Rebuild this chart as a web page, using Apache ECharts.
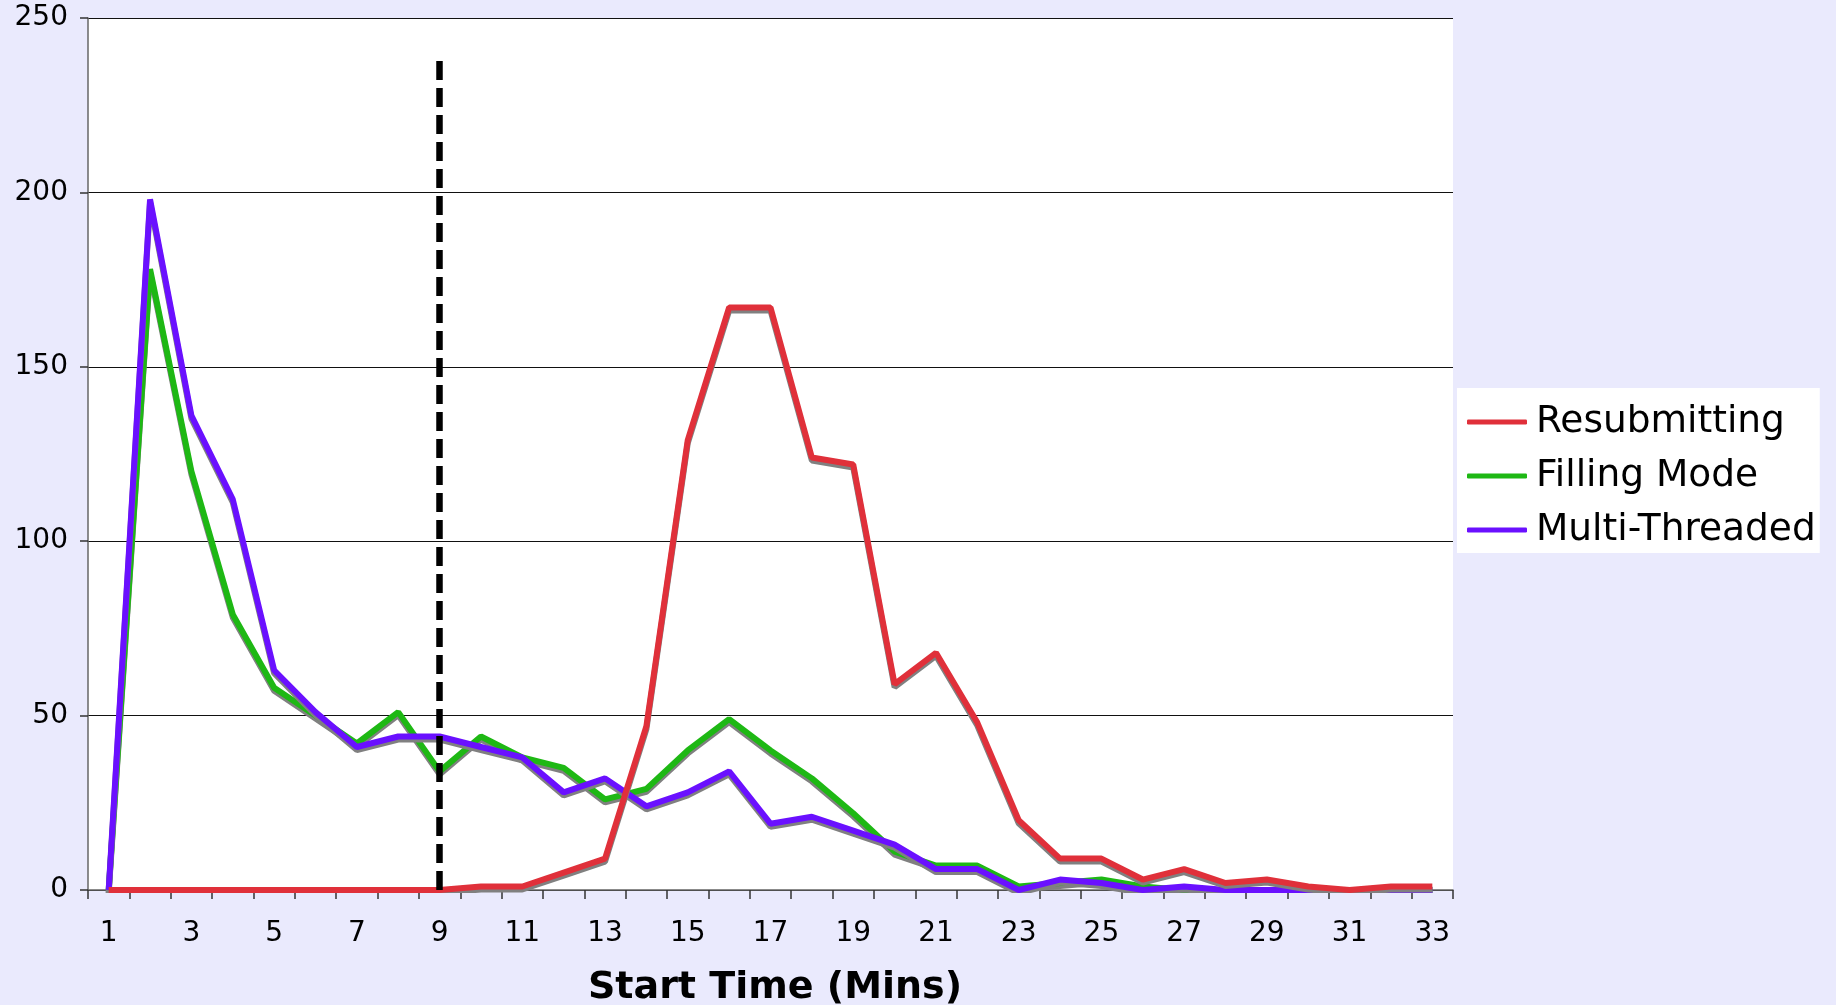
<!DOCTYPE html>
<html>
<head>
<meta charset="utf-8">
<script src="https://cdn.jsdelivr.net/npm/echarts@6/dist/echarts.min.js"></script>
<style>
html,body{margin:0;padding:0;background:#EAEAFD;}
#chart{width:1836px;height:1005px;}
</style>
</head>
<body>
<div id="chart"></div>
<script>
const categories = ['1','2','3','4','5','6','7','8','9','10','11','12','13','14','15','16','17','18','19','20','21','22','23','24','25','26','27','28','29','30','31','32','33'];
const resubmitting = [0,0,0,0,0,0,0,0,0,1,1,5,9,47,129,167,167,124,122,59,68,48,20,9,9,3,6,2,3,1,0,1,1];
const fillingMode = [0,178,120,79,58,50,42,51,34,44,38,35,26,29,40,49,40,32,22,11,7,7,1,2,3,1,0,0,0,0,0,0,0];
const multiThreaded = [0,198,136,112,63,51,41,44,44,41,38,28,32,24,28,34,19,21,17,13,6,6,0,3,2,0,1,0,0,0,0,0,0];
const seriesNames = ['Resubmitting','Filling Mode','Multi-Threaded'];
const yTicks = [0,50,100,150,200,250];
const cutoffCategory = '9';
const cutoffTop = 240;
const xTitle = 'Start Time (Mins)';

const FONT = 'DejaVu Sans';
const chart = echarts.init(document.getElementById('chart'), null, {renderer:'canvas'});
function lineSeries(name, data, color, z, extra){
  return Object.assign({
    name: name, type: 'line', data: data, symbol: 'none', smooth: false, z: z,
    lineStyle: {color: color, width: 6, shadowColor: '#808080', shadowOffsetX: 0, shadowOffsetY: 3, shadowBlur: 0},
    itemStyle: {color: color}
  }, extra || {});
}
chart.setOption({
  backgroundColor: '#EAEAFD',
  animation: false,
  textStyle: {fontFamily: FONT, color: '#000'},
  grid: {left: 88, right: 383, top: 18, bottom: 115, show: true, backgroundColor: '#fff', borderWidth: 0,
         containLabel: false, outerBoundsMode: 'none'},
  legend: {
    data: seriesNames,
    orient: 'vertical',
    left: 1457, top: 388,
    backgroundColor: '#fff',
    padding: [12, 4, 1, 10],
    itemGap: 10,
    itemWidth: 60, itemHeight: 5,
    icon: 'roundRect',
    textStyle: {fontFamily: FONT, fontSize: 37.5, color: '#000', lineHeight: 44, padding: [0,0,0,4]}
  },
  xAxis: {
    type: 'category', data: categories, boundaryGap: true,
    name: xTitle, nameLocation: 'middle', nameGap: 78,
    nameTextStyle: {fontFamily: FONT, fontSize: 38, fontWeight: 'bold', color: '#000', lineHeight: 40, padding: [0,0,0,9]},
    axisLine: {lineStyle: {color: '#666', width: 1.5}},
    axisTick: {show: true, interval: 0, length: 9, lineStyle: {color: '#333', width: 1.5}},
    axisLabel: {interval: 1, margin: 30, fontSize: 28, color: '#000', fontFamily: FONT},
    splitLine: {show: false}
  },
  yAxis: {
    type: 'value', min: yTicks[0], max: yTicks[yTicks.length-1], interval: 50,
    axisLine: {show: true, lineStyle: {color: '#666', width: 1.5}},
    axisTick: {show: true, length: 8, lineStyle: {color: '#333', width: 1.5}},
    axisLabel: {margin: 20, fontSize: 28, color: '#000', fontFamily: FONT},
    splitLine: {show: true, lineStyle: {color: '#111', width: 1.2}}
  },
  series: [
    lineSeries(seriesNames[0], resubmitting, '#E0303A', 5, {
      markLine: {
        silent: true, symbol: 'none', z: 10,
        label: {show: false},
        lineStyle: {color: '#000', width: 6.5, type: [19, 8], shadowBlur: 0, shadowOffsetY: 0, shadowColor: 'transparent'},
        data: [[{coord: [cutoffCategory, 0]}, {coord: [cutoffCategory, cutoffTop]}]]
      }
    }),
    lineSeries(seriesNames[1], fillingMode, '#1EB814', 3),
    lineSeries(seriesNames[2], multiThreaded, '#6A10FF', 4)
  ]
});
</script>
</body>
</html>
